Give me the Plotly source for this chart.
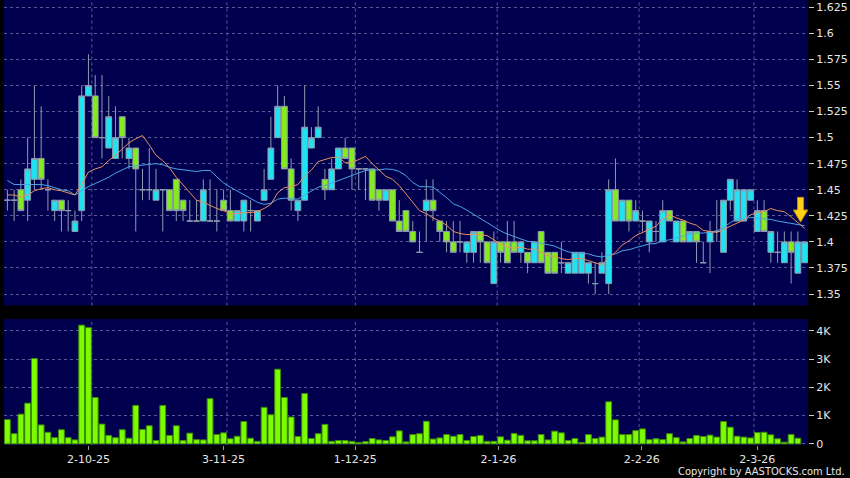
import plotly.graph_objects as go

# ---------------- data ----------------
opens = [1.44,1.44,1.45,1.44,1.46,1.48,1.45,1.43,1.44,1.43,1.41,1.43,1.54,1.54,1.50,1.49,1.48,1.52,1.48,1.49,
         1.45,1.45,1.44,1.45,1.45,1.46,1.44,1.42,1.42,1.42,1.42,1.42,1.44,1.43,1.42,1.42,1.43,1.42,1.44,1.46,
         1.50,1.53,1.47,1.43,1.44,1.49,1.50,1.46,1.45,1.47,1.49,1.49,1.47,1.47,1.47,1.45,1.44,1.45,1.42,1.43,
         1.41,1.39,1.43,1.44,1.42,1.41,1.40,1.40,1.39,1.39,1.41,1.40,1.36,1.40,1.40,1.40,1.39,1.39,1.38,1.41,
         1.39,1.39,1.38,1.37,1.37,1.37,1.37,1.36,1.37,1.36,1.45,1.42,1.44,1.42,1.42,1.40,1.41,1.40,1.43,1.40,
         1.42,1.40,1.41,1.38,1.40,1.41,1.39,1.44,1.42,1.42,1.44,1.41,1.43,1.39,1.39,1.38,1.40,1.37,1.38]
highs = [1.45,1.45,1.46,1.50,1.55,1.53,1.46,1.44,1.44,1.44,1.43,1.55,1.58,1.56,1.56,1.54,1.53,1.52,1.50,1.49,
         1.47,1.49,1.47,1.45,1.45,1.46,1.44,1.44,1.44,1.46,1.46,1.45,1.45,1.45,1.43,1.44,1.44,1.43,1.47,1.52,
         1.55,1.54,1.48,1.44,1.55,1.51,1.53,1.47,1.48,1.49,1.50,1.49,1.47,1.47,1.47,1.45,1.45,1.45,1.44,1.43,
         1.42,1.41,1.46,1.46,1.42,1.42,1.42,1.42,1.40,1.41,1.41,1.40,1.41,1.40,1.42,1.42,1.40,1.39,1.40,1.41,
         1.39,1.39,1.40,1.38,1.39,1.39,1.38,1.38,1.39,1.46,1.48,1.44,1.44,1.44,1.43,1.42,1.42,1.44,1.43,1.42,
         1.42,1.41,1.41,1.40,1.42,1.44,1.44,1.46,1.46,1.45,1.45,1.44,1.44,1.41,1.41,1.41,1.41,1.41,1.40]
lows = [1.43,1.42,1.43,1.42,1.45,1.45,1.43,1.42,1.41,1.41,1.41,1.42,1.54,1.50,1.48,1.49,1.48,1.48,1.47,1.41,
        1.44,1.44,1.44,1.41,1.43,1.42,1.42,1.42,1.42,1.42,1.42,1.41,1.43,1.42,1.42,1.41,1.41,1.42,1.44,1.46,
        1.50,1.47,1.43,1.42,1.44,1.49,1.50,1.44,1.45,1.47,1.48,1.45,1.45,1.44,1.44,1.43,1.44,1.42,1.41,1.41,
        1.40,1.39,1.40,1.42,1.40,1.39,1.39,1.39,1.38,1.38,1.38,1.38,1.36,1.38,1.38,1.39,1.38,1.37,1.38,1.38,
        1.37,1.37,1.37,1.37,1.37,1.37,1.36,1.35,1.37,1.35,1.42,1.42,1.41,1.42,1.41,1.39,1.40,1.40,1.42,1.40,
        1.40,1.40,1.38,1.38,1.37,1.40,1.39,1.43,1.42,1.42,1.44,1.41,1.41,1.38,1.38,1.38,1.36,1.37,1.38]
closes = [1.44,1.44,1.43,1.47,1.48,1.46,1.45,1.44,1.43,1.43,1.42,1.54,1.55,1.50,1.50,1.52,1.50,1.50,1.49,1.47,
          1.45,1.45,1.45,1.45,1.43,1.43,1.43,1.42,1.42,1.45,1.42,1.42,1.43,1.42,1.43,1.44,1.43,1.43,1.45,1.49,
          1.53,1.47,1.44,1.44,1.51,1.50,1.51,1.45,1.47,1.49,1.48,1.47,1.47,1.47,1.44,1.44,1.45,1.42,1.41,1.41,
          1.40,1.39,1.44,1.43,1.41,1.40,1.39,1.40,1.40,1.41,1.40,1.38,1.40,1.39,1.38,1.39,1.40,1.38,1.40,1.38,
          1.37,1.37,1.38,1.38,1.39,1.39,1.38,1.36,1.38,1.45,1.42,1.44,1.42,1.43,1.42,1.42,1.41,1.43,1.42,1.42,
          1.40,1.41,1.40,1.38,1.41,1.41,1.44,1.46,1.45,1.45,1.45,1.43,1.41,1.41,1.39,1.40,1.39,1.40,1.40]
# volume in thousands of shares (last session has no bar)
volumes = [0.86,0.36,1.05,1.44,3.02,0.67,0.41,0.22,0.50,0.22,0.14,4.20,4.11,1.64,0.70,0.30,0.22,0.50,0.20,1.36,
           0.51,0.64,0.12,1.36,0.30,0.64,0.12,0.38,0.15,0.14,1.60,0.33,0.39,0.18,0.27,0.79,0.20,0.09,1.29,1.03,
           2.64,1.64,0.95,0.26,1.78,0.19,0.36,0.69,0.09,0.12,0.12,0.09,0.05,0.08,0.19,0.14,0.12,0.25,0.46,0.07,
           0.33,0.36,0.80,0.17,0.21,0.33,0.27,0.33,0.12,0.26,0.30,0.09,0.09,0.25,0.13,0.37,0.30,0.11,0.11,0.33,
           0.14,0.45,0.39,0.12,0.19,0.05,0.33,0.19,0.24,1.49,0.85,0.33,0.33,0.47,0.53,0.15,0.18,0.15,0.36,0.22,
           0.07,0.19,0.30,0.26,0.31,0.24,0.79,0.59,0.27,0.24,0.21,0.40,0.41,0.32,0.18,0.06,0.33,0.20,None]
# moving-average values before a full window exists
ma10_head = [1.445,1.445,1.443,1.445,1.449,1.451,1.452,1.450,1.449]
ma20_head = [1.459,1.455,1.455,1.455,1.455,1.455,1.454,1.452,1.450,1.449,1.445,1.449,1.453,1.456,1.459,
             1.462,1.466,1.469,1.472]
date_labels = ["2-10-25", "3-11-25", "1-12-25", "2-1-26", "2-2-26", "2-3-26"]
date_label_idx = [12, 32, 51.5, 72.7, 93.9, 111]
month_grid_idx = [12.5, 32.5, 51.5, 72.5, 93.5, 110.5]
price_ticks = [1.35, 1.375, 1.4, 1.425, 1.45, 1.475, 1.5, 1.525, 1.55, 1.575, 1.6, 1.625]
vol_ticks = [0, 1, 2, 3, 4]

# ---------------- derived ----------------
n = len(closes)
idx = list(range(n))

def sma(vals, w, head):
    out = []
    for i in range(len(vals)):
        if i < w - 1:
            out.append(head[i])
        else:
            out.append(sum(vals[i - w + 1:i + 1]) / w)
    return out

ma10 = sma(closes, 10, ma10_head)
ma20 = sma(closes, 20, ma20_head)

NAVY = "#00004f"
GRID = "#5a5a96"
CYAN = "#1fe3f0"
LIME = "#84ec1e"
EDGE = "#8e9bb0"
TXT = "#e6e6e6"
FONT = "DejaVu Sans"

fig = go.Figure()
fig.add_trace(go.Candlestick(
    x=idx, open=opens, high=highs, low=lows, close=closes,
    increasing=dict(fillcolor=CYAN, line=dict(color=EDGE, width=1)),
    decreasing=dict(fillcolor=LIME, line=dict(color=EDGE, width=1)),
    whiskerwidth=0, xaxis="x", yaxis="y", showlegend=False, hoverinfo="skip"))
fig.add_trace(go.Scatter(x=idx, y=ma20, mode="lines", line=dict(color="#4aa6e6", width=1),
                         xaxis="x", yaxis="y", showlegend=False, hoverinfo="skip"))
fig.add_trace(go.Scatter(x=idx, y=ma10, mode="lines", line=dict(color="#e8925c", width=1),
                         xaxis="x", yaxis="y", showlegend=False, hoverinfo="skip"))
fig.add_trace(go.Bar(x=idx, y=volumes, width=0.86,
                     marker=dict(color="#7cfc00", line=dict(color="#3f8a08", width=1)),
                     xaxis="x2", yaxis="y2", showlegend=False, hoverinfo="skip"))

xr = [-0.5, n - 0.5]
ax_common = dict(range=xr, zeroline=False, showline=False, fixedrange=True, automargin=False)
fig.update_layout(
    width=850, height=478,
    margin=dict(l=4, r=42, t=0, b=33, autoexpand=False),
    paper_bgcolor="#000000", plot_bgcolor=NAVY,
    boxgap=0.14, boxgroupgap=0,
    font=dict(family=FONT, size=11, color=TXT),
    xaxis=dict(domain=[0, 1], anchor="y", showticklabels=False, showgrid=False,
               rangeslider=dict(visible=False), **ax_common),
    xaxis2=dict(domain=[0, 1], anchor="y2", matches="x", showgrid=False,
                tickmode="array", tickvals=date_label_idx, ticktext=date_labels,
                ticks="outside", ticklen=4, tickcolor="#9a9a9a",
                tickfont=dict(family=FONT, size=11, color=TXT), **ax_common),
    yaxis=dict(domain=[0.3135, 1], range=[1.339, 1.632], side="right", anchor="x",
               tickmode="array", tickvals=price_ticks,
               ticktext=[f"{v:g}" for v in price_ticks],
               ticks="outside", ticklen=5, tickcolor="#cfcfcf",
               showgrid=True, gridcolor=GRID, griddash="3px,3px", gridwidth=1,
               zeroline=False, showline=False, fixedrange=True, automargin=False,
               tickfont=dict(family=FONT, size=11, color=TXT)),
    yaxis2=dict(domain=[0, 0.2831], range=[-0.04, 4.416], side="right", anchor="x2",
                tickmode="array", tickvals=vol_ticks,
                ticktext=[("%dK" % v) if v else "0" for v in vol_ticks],
                ticks="outside", ticklen=5, tickcolor="#cfcfcf",
                showgrid=True, gridcolor=GRID, griddash="3px,3px", gridwidth=1,
                zeroline=False, showline=False, fixedrange=True, automargin=False,
                tickfont=dict(family=FONT, size=11, color=TXT)),
)

# vertical month grid lines in both panels
for gx in month_grid_idx:
    for yr in ("y domain", "y2 domain"):
        fig.add_shape(type="line", xref="x", yref=yr, x0=gx, x1=gx, y0=0, y1=1,
                      line=dict(color=GRID, width=1, dash="3px,3px"), layer="below")

# yellow down arrow marking the latest moving-average point
ax_c, ax_sh, ax_hd = 117.4, 0.45, 1.07
y_top, y_base, y_tip = 1.4427, 1.4306, 1.4190
path = (f"M {ax_c-ax_sh},{y_top} L {ax_c+ax_sh},{y_top} L {ax_c+ax_sh},{y_base} "
        f"L {ax_c+ax_hd},{y_base} L {ax_c},{y_tip} L {ax_c-ax_hd},{y_base} "
        f"L {ax_c-ax_sh},{y_base} Z")
fig.add_shape(type="path", path=path, xref="x", yref="y",
              fillcolor="#ffd21a", line=dict(color="#c98a00", width=1), layer="above")

fig.add_annotation(text="Copyright by AASTOCKS.com Ltd.", xref="paper", yref="paper",
                   x=1.0485, y=-0.0585, xanchor="right", yanchor="middle", showarrow=False,
                   font=dict(family="Liberation Sans Narrow, DejaVu Sans Condensed, Arial Narrow",
                             size=11, color=TXT))

fig.write_html("out.html", config={"displayModeBar": False, "staticPlot": True},
               post_script="document.body.style.margin='0';document.body.style.overflow='hidden';")
